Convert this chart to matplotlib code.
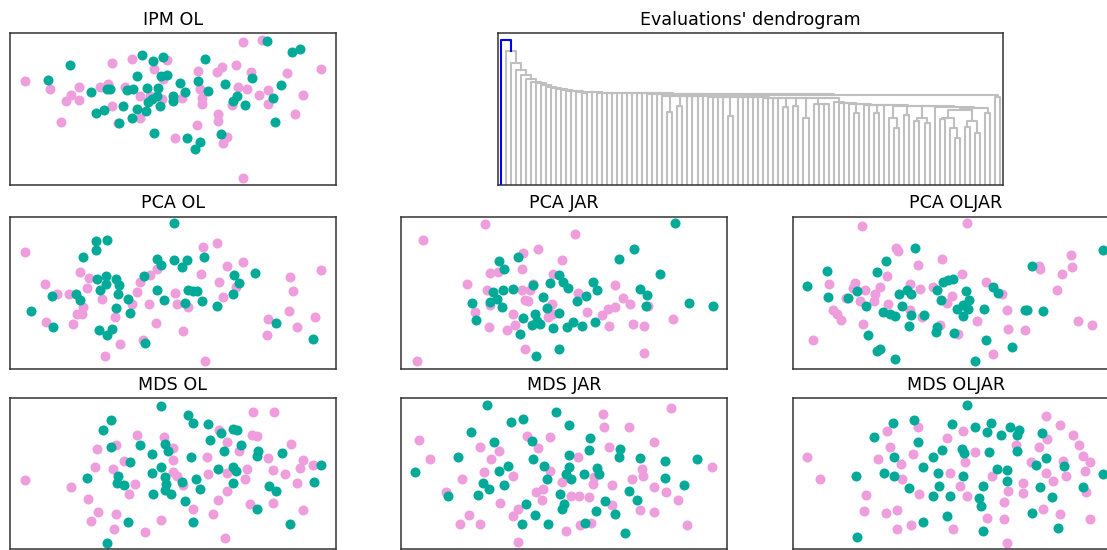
import matplotlib
matplotlib.use("Agg")
import matplotlib.pyplot as plt

PINK = "#ee9edc"
TEAL = "#00aa98"

# 2-D embeddings of the evaluations (two groups per panel)
ipm_ol_pink = [(45, 312), (120, 289), (182, 270), (167, 252), (208, 255), (208, 295), (152, 189),
               (270, 295), (295, 302), (305, 365), (365, 377), (345, 295), (305, 237), (325, 187),
               (390, 202), (432, 347), (470, 375), (460, 317), (455, 257), (515, 262), (495, 142),
               (560, 179), (563, 342), (570, 287), (575, 262), (575, 242), (625, 212), (625, 192),
               (620, 339), (635, 355), (678, 359), (722, 339), (685, 295), (710, 287), (665, 239),
               (748, 270), (775, 285), (775, 242), (830, 335), (855, 214), (880, 270), (933, 347),
               (698, 429), (755, 435), (638, 127), (650, 145), (700, 22), (420, 267), (390, 267)]
ipm_ol_teal = [(113, 315), (180, 359), (242, 279), (258, 217), (282, 224), (290, 287), (300, 289),
               (327, 187), (340, 237), (350, 285), (368, 287), (367, 202), (380, 327), (380, 227),
               (397, 389), (410, 292), (408, 222), (430, 372), (460, 385), (452, 327), (470, 329),
               (445, 292), (440, 267), (450, 237), (425, 257), (415, 249), (490, 267), (488, 252),
               (510, 305), (525, 279), (433, 157), (530, 142), (570, 129), (555, 107), (565, 312),
               (585, 377), (595, 282), (645, 302), (632, 152), (668, 252), (680, 267), (705, 239),
               (727, 321), (790, 262), (813, 299), (795, 189), (770, 431), (845, 399), (870, 409)]

pca_ol_pink = [(45, 350), (105, 253), (140, 223), (108, 140), (178, 223), (188, 133), (200, 163),
               (215, 163), (220, 185), (210, 290), (232, 243), (238, 273), (275, 210), (315, 155),
               (330, 75), (285, 37), (400, 85), (380, 230), (390, 260), (420, 280), (440, 300),
               (418, 195), (365, 195), (437, 137), (495, 227), (500, 195), (535, 185), (520, 113),
               (580, 365), (622, 377), (573, 285), (628, 260), (638, 215), (650, 307), (698, 320),
               (678, 245), (585, 23), (775, 150), (770, 100), (837, 173), (862, 125), (840, 275),
               (848, 232), (915, 155), (933, 295)]
pca_ol_teal = [(63, 172), (127, 218), (130, 125), (198, 225), (210, 205), (218, 335), (258, 383),
               (258, 357), (292, 385), (260, 270), (270, 235), (288, 277), (288, 253), (318, 270),
               (328, 250), (325, 223), (318, 182), (353, 210), (360, 168), (267, 117), (290, 100),
               (307, 120), (402, 277), (405, 77), (440, 330), (452, 310), (440, 237), (462, 207),
               (493, 437), (493, 327), (515, 305), (532, 327), (535, 237), (525, 197), (548, 232),
               (560, 233), (575, 203), (582, 335), (622, 187), (672, 280), (688, 257), (670, 225),
               (735, 287), (798, 137), (908, 90)]

pca_jar_pink = [(65, 385), (252, 435), (522, 405), (47, 23), (197, 253), (267, 287), (292, 290),
                (257, 235), (365, 347), (362, 300), (412, 360), (482, 327), (457, 283), (372, 205),
                (382, 203), (362, 235), (387, 235), (397, 255), (337, 165), (342, 130), (317, 115),
                (264, 125), (222, 170), (267, 190), (442, 155), (457, 165), (452, 195), (532, 227),
                (557, 170), (602, 160), (622, 180), (642, 185), (642, 252), (667, 213), (687, 193),
                (625, 127), (697, 133), (729, 127), (742, 187), (817, 150), (729, 48), (372, 58)]
pca_jar_teal = [(214, 197), (224, 147), (295, 323), (309, 300), (352, 335), (277, 230), (287, 210),
                (302, 185), (307, 237), (337, 238), (267, 200), (397, 250), (427, 215), (437, 183),
                (447, 257), (475, 280), (487, 260), (502, 243), (527, 203), (555, 217), (577, 260),
                (587, 237), (365, 153), (402, 165), (407, 143), (392, 130), (417, 135), (357, 105),
                (475, 167), (457, 123), (497, 125), (517, 140), (544, 127), (582, 140), (655, 328),
                (700, 358), (777, 285), (717, 240), (737, 220), (735, 187), (865, 197), (935, 187),
                (822, 437), (405, 37), (475, 58)]

pca_oljar_pink = [(207, 428), (522, 437), (310, 363), (317, 353), (377, 310), (447, 330), (507, 285),
                  (282, 277), (187, 257), (182, 243), (217, 235), (262, 245), (110, 253), (159, 213),
                  (202, 203), (247, 223), (244, 203), (287, 195), (122, 177), (132, 163), (144, 147),
                  (210, 135), (60, 87), (352, 255), (382, 238), (422, 245), (477, 217), (462, 197),
                  (352, 175), (387, 155), (442, 130), (497, 103), (552, 143), (580, 260), (627, 223),
                  (642, 177), (647, 120), (697, 117), (602, 45), (740, 307), (742, 300), (807, 285),
                  (834, 342), (837, 305), (794, 235), (855, 143), (899, 130)]
pca_oljar_teal = [(44, 247), (104, 292), (107, 215), (167, 213), (192, 233), (220, 187), (227, 100),
                  (254, 290), (280, 323), (272, 170), (292, 165), (307, 157), (320, 223), (327, 187),
                  (342, 237), (355, 223), (354, 160), (350, 127), (367, 363), (394, 160), (432, 237),
                  (444, 205), (452, 260), (467, 267), (480, 270), (492, 180), (510, 157), (519, 233),
                  (530, 207), (527, 180), (510, 190), (432, 125), (430, 110), (484, 107), (574, 180),
                  (580, 85), (602, 245), (617, 227), (657, 65), (697, 175), (704, 175), (717, 307),
                  (752, 172), (930, 355), (307, 30), (547, 23), (262, 60), (254, 52)]

mds_ol_pink = [(45, 209), (182, 187), (235, 152), (255, 249), (260, 302), (265, 112), (242, 85),
               (310, 242), (318, 315), (318, 107), (312, 59), (342, 265), (358, 165), (375, 197),
               (380, 345), (405, 50), (452, 87), (462, 339), (488, 305), (488, 269), (490, 232),
               (500, 219), (518, 192), (550, 122), (592, 279), (595, 225), (610, 105), (628, 359),
               (625, 149), (650, 322), (652, 229), (652, 175), (645, 32), (688, 295), (710, 242),
               (705, 212), (720, 137), (727, 345), (740, 340), (730, 415), (792, 415), (775, 275),
               (788, 239), (788, 139), (825, 225), (842, 317), (862, 199), (870, 245), (880, 269),
               (908, 255), (880, 117)]
mds_ol_teal = [(453, 432), (303, 390), (278, 359), (302, 309), (230, 215), (325, 219), (320, 199),
               (342, 192), (360, 262), (390, 315), (425, 287), (425, 229), (428, 165), (453, 249),
               (465, 317), (475, 297), (465, 217), (467, 195), (465, 179), (482, 165), (515, 202),
               (525, 145), (543, 279), (558, 212), (570, 182), (535, 405), (548, 382), (595, 377),
               (600, 329), (632, 349), (642, 297), (625, 242), (670, 362), (682, 359), (692, 315),
               (670, 249), (678, 235), (668, 199), (745, 297), (742, 282), (815, 289), (778, 189),
               (798, 175), (742, 122), (840, 77), (912, 202), (933, 255), (355, 82), (550, 82),
               (292, 19)]

mds_jar_pink = [(55, 329), (88, 272), (135, 172), (183, 212), (205, 102), (177, 75), (237, 75),
                (237, 307), (250, 232), (270, 272), (293, 295), (297, 139), (335, 219), (335, 99),
                (350, 122), (350, 20), (377, 342), (412, 305), (425, 182), (405, 172), (422, 147),
                (448, 339), (448, 237), (483, 202), (495, 54), (510, 159), (535, 159), (537, 72),
                (563, 157), (530, 279), (570, 79), (580, 217), (577, 197), (605, 409), (610, 369),
                (623, 309), (633, 192), (633, 132), (685, 367), (693, 212), (723, 242), (727, 219),
                (717, 117), (758, 112), (760, 322), (760, 187), (795, 172), (830, 147), (810, 425),
                (858, 72), (933, 247)]
mds_jar_teal = [(43, 232), (140, 159), (170, 279), (210, 352), (230, 162), (245, 199), (263, 182),
                (280, 324), (293, 235), (308, 192), (322, 252), (258, 434), (330, 385), (365, 392),
                (393, 327), (397, 272), (428, 252), (438, 212), (465, 415), (505, 374), (505, 285),
                (505, 247), (495, 227), (510, 212), (478, 167), (483, 122), (490, 137), (375, 137),
                (403, 102), (363, 77), (440, 77), (548, 227), (568, 335), (565, 300), (587, 245),
                (593, 227), (613, 144), (585, 114), (643, 105), (553, 79), (657, 302), (655, 279),
                (717, 275), (685, 175), (708, 149), (793, 267), (793, 215), (850, 192), (887, 272),
                (673, 47)]

mds_oljar_pink = [(44, 279), (82, 212), (220, 162), (214, 115), (280, 109), (314, 117), (314, 59),
                  (355, 72), (257, 272), (324, 257), (327, 212), (360, 287), (380, 165), (472, 229),
                  (480, 59), (517, 262), (502, 190), (522, 159), (547, 294), (582, 95), (597, 219),
                  (634, 142), (634, 92), (647, 175), (642, 19), (692, 199), (692, 169), (714, 264),
                  (752, 122), (760, 229), (782, 205), (802, 105), (810, 265), (820, 220), (877, 235),
                  (880, 172), (892, 92), (892, 262), (870, 282), (284, 357), (292, 309), (377, 369),
                  (462, 335), (512, 357), (670, 315), (740, 307), (762, 332), (760, 402), (802, 375),
                  (842, 345), (860, 315)]
mds_oljar_teal = [(522, 434), (302, 382), (364, 390), (245, 339), (377, 324), (447, 300), (420, 277),
                  (305, 279), (477, 377), (547, 367), (594, 382), (584, 352), (624, 345), (652, 367),
                  (680, 359), (672, 345), (507, 302), (514, 289), (590, 292), (674, 297), (747, 349),
                  (760, 275), (190, 219), (192, 37), (274, 230), (305, 219), (349, 184), (390, 247),
                  (392, 83), (437, 230), (440, 190), (420, 159), (462, 100), (472, 159), (512, 219),
                  (570, 190), (559, 155), (565, 129), (572, 55), (612, 242), (644, 239), (644, 205),
                  (729, 254), (814, 250), (742, 187), (777, 157), (717, 109), (795, 64), (872, 187),
                  (930, 227)]

# dendrogram of the evaluations: L is a leaf, (h, left, right) a merge at height h.
# a chain item is either a height (one leaf merged at it) or (height, subtree)
L = None
head_chain = [134, 122, 115, 110, 106, 103, 102, 100, 98, 97, 96, 95, 94.5, 94, 93.5,
              (93, (92, L, L)),
              92.8, 92.6, 92.5, 92.4, 92.3, 92.2, 92.1, 92.0, 91.9, 91.8, 91.7, 91.6, 91.5, 91.4]
mid_chain = [89.5, (89.3, (73, L, L)), (89.1, (79, L, L)),
             89.0, 88.9, 88.8, 88.7, 88.6, 88.5, 88.4, 88.3,
             (88.2, (69, L, L)),
             88.1, 88.0, 87.9, 87.8, 87.7, 87.6, 87.5, 87.4, 87.3,
             (87.2, (78, L, L)), (87.1, (79, L, L)), (87.0, (67, L, L)),
             (86.8, (81, L, (81, L, (81, L, L)))),
             83, 82.5, 82, 81.5,
             (81, (72, L, L)), 80.5, 80.2, (80, (72, L, L)), 79.8,
             (79.6, (67, L, (57, L, L))), (79.4, (70, L, L)),
             (79.2, (67, (64, L, L), (62, L, L))), 78.5]
mid_tail = (77, (75, (67, (66, L, L), (57, L, (47, L, L))), (64, (58, L, L), (52, L, L))),
            (72, L, L))
last_pair = (88, L, L)
root_height = 145


def chain(items, tail):
    node = tail
    for item in reversed(items):
        h, left = (item, L) if not isinstance(item, tuple) else item
        node = (h, left, node)
    return node


tree = (root_height, L, chain(head_chain, (90, chain(mid_chain, mid_tail), last_pair)))


def draw_dendrogram(ax, tree):
    leaves = [0]
    segs = []

    def walk(node):
        # returns (x, height) of the node and collects its link
        if node is None:
            x = 5 + 10 * leaves[0]
            leaves[0] += 1
            return x, 0.0
        h, left, right = node
        xl, hl = walk(left)
        xr, hr = walk(right)
        segs.append(([xl, xl, xr, xr], [hl, h, h, hr], h))
        return (xl + xr) / 2, h

    walk(tree)
    for xs, ys, h in segs:
        color = "#0000ff" if h >= root_height else "#bfbfbf"
        ax.plot(xs, ys, color=color, lw=1.5, zorder=3 if h >= root_height else 2)
    ax.set_xlim(0, 10 * leaves[0])
    ax.set_ylim(0, root_height * 1.05)


W, H = 1107, 550
fig = plt.figure(figsize=(W / 100, H / 100), dpi=100)


def add_panel(left, top, width=326, height=152):
    ax = fig.add_axes([left / W, 1 - (top + height) / H, width / W, height / H])
    ax.set_xticks([])
    ax.set_yticks([])
    for sp in ax.spines.values():
        sp.set_color("#333333")
        sp.set_linewidth(1.1)
    return ax


def scatter_panel(ax, pink, teal, title):
    ax.scatter([p[0] for p in pink], [p[1] for p in pink], s=52, color=PINK, linewidths=0)
    ax.scatter([p[0] for p in teal], [p[1] for p in teal], s=52, color=TEAL, linewidths=0)
    ax.set_xlim(0, 978)
    ax.set_ylim(0, 456)
    ax.set_title(title, fontsize=12.6)


col_left = [10, 401, 792.7]
row_top = [33, 216.7, 398]

ax = add_panel(col_left[0], row_top[0])
scatter_panel(ax, ipm_ol_pink, ipm_ol_teal, "IPM OL")

ax = add_panel(498.3, row_top[0], width=504.4)
draw_dendrogram(ax, tree)
ax.set_title("Evaluations' dendrogram", fontsize=12.6)

panels = [
    (pca_ol_pink, pca_ol_teal, "PCA OL"),
    (pca_jar_pink, pca_jar_teal, "PCA JAR"),
    (pca_oljar_pink, pca_oljar_teal, "PCA OLJAR"),
    (mds_ol_pink, mds_ol_teal, "MDS OL"),
    (mds_jar_pink, mds_jar_teal, "MDS JAR"),
    (mds_oljar_pink, mds_oljar_teal, "MDS OLJAR"),
]
for k, (pink, teal, title) in enumerate(panels):
    row, col = 1 + k // 3, k % 3
    ax = add_panel(col_left[col], row_top[row], height=152 if row == 1 else 151)
    scatter_panel(ax, pink, teal, title)

fig.savefig("out.png", dpi=100)
